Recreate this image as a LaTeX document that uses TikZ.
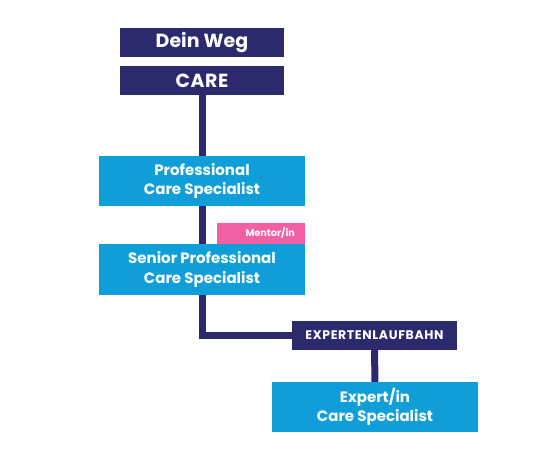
\documentclass[tikz,border=0pt]{standalone}
\usepackage{fontspec}
\setmainfont{Poppins}
\usetikzlibrary{positioning}

\definecolor{navy}{HTML}{2B2A6C}
\definecolor{careblue}{HTML}{109ED9}
\definecolor{mentorpink}{HTML}{F25FA3}

\tikzset{
    navybox/.style={fill=navy,text=white,inner sep=0pt,font=\bfseries},
    bluebox/.style={fill=careblue,text=white,inner sep=0pt,align=center,
        minimum width=206pt,minimum height=50pt,font=\bfseries\fontsize{15}{19.5}\selectfont},
    wayline/.style={navy,line width=7pt},
}

\begin{document}
\begin{tikzpicture}[x=1pt,y=-1pt]
    \useasboundingbox (0,0) rectangle (552,476);
    % Header
    \node[navybox,minimum width=164pt,minimum height=29pt,font=\bfseries\fontsize{19}{22}\selectfont]
        (weg) at (202,42.5) {Dein Weg};
    \node[navybox,minimum width=164pt,minimum height=29pt,font=\bfseries\fontsize{19}{22}\selectfont\addfontfeatures{LetterSpace=3}]
        (care) at (202,80.5) {CARE};

    % Career steps
    \node[bluebox] (prof) at (202,181) {Professional\\Care Specialist};
    \node[bluebox,minimum height=51pt] (senior) at (202,269.5) {Senior Professional\\Care Specialist};
    \node[fill=mentorpink,text=white,font=\bfseries\fontsize{9.7}{11}\selectfont,
        minimum width=88pt,minimum height=21pt,inner sep=0pt,text width=68pt,align=right,
        above=0pt of senior.north east,anchor=south east] (mentor) {Mentor/in};

    % Expert track
    \node[navybox,minimum width=165pt,minimum height=29pt,font=\bfseries\fontsize{12.5}{14}\selectfont\addfontfeatures{LetterSpace=5}]
        (track) at (374.5,335.5) {EXPERTENLAUFBAHN};
    \node[bluebox] (expert) at (375,407) {Expert/in\\Care Specialist};

    % Connections
    \draw[wayline] (care.south) -- (prof.north);
    \draw[wayline] (prof.south) -- (senior.north);
    \draw[wayline] (senior.south) |- (track.west);
    \draw[wayline] (track.south) -- (expert.north);
\end{tikzpicture}
\end{document}
